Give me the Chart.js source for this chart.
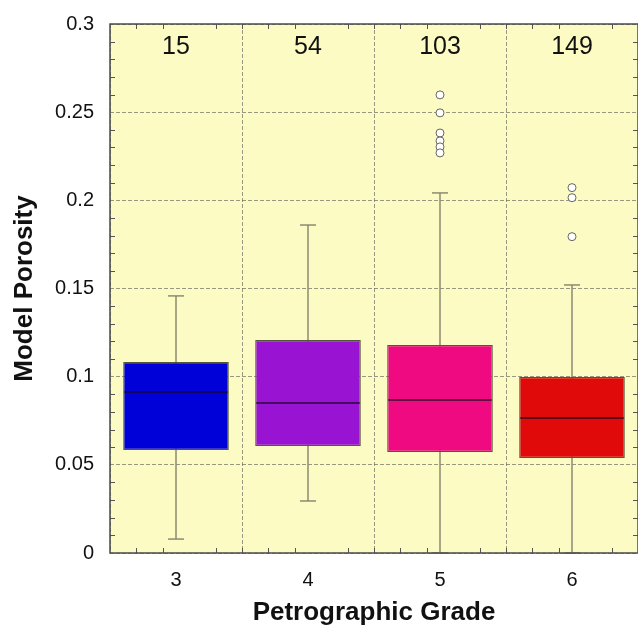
<!DOCTYPE html>
<html>
<head>
<meta charset="utf-8">
<script src="https://cdn.jsdelivr.net/npm/chart.js@4"></script>
<style>
  html, body { margin: 0; padding: 0; background: #fff; }
  #wrap { width: 638px; height: 626px; }
</style>
</head>
<body>
<div id="wrap"><canvas id="boxChart" width="638" height="626"></canvas></div>
<script>
// Petrographic grade box plot data
const grades = ['3', '4', '5', '6'];
const counts = [15, 54, 103, 149];
const q1 = [0.0584, 0.0607, 0.0573, 0.0539];
const q3 = [0.1083, 0.1208, 0.1180, 0.0998];
const medians = [0.0913, 0.0851, 0.0868, 0.0766];
const whiskerLow = [0.0079, 0.0295, 0, 0];
const whiskerHigh = [0.1458, 0.186, 0.2042, 0.152];
const outlierGrade = ['5', '5', '5', '5', '5', '5', '6', '6', '6'];
const outlierValue = [0.2598, 0.2496, 0.2382, 0.2337, 0.2303, 0.2269, 0.2072, 0.2015, 0.1794];
const yTicks = [0, 0.05, 0.1, 0.15, 0.2, 0.25, 0.3];

const boxColors = ['#0000d8', '#9814d2', '#f00a82', '#e00a0a'];
const fontFamily = '"Liberation Sans", Arial, Helvetica, sans-serif';

// draws background, whiskers, medians, frame, minor ticks and counts
const boxPlotPlugin = {
  id: 'boxPlot',
  beforeDraw(chart) {
    const { ctx, chartArea: a } = chart;
    ctx.save();
    ctx.fillStyle = '#fbfbc3';
    ctx.fillRect(a.left, a.top, a.right - a.left, a.bottom - a.top);
    ctx.restore();
  },
  beforeDatasetsDraw(chart) {
    const { ctx } = chart;
    const x = chart.scales.x, y = chart.scales.y;
    ctx.save();
    ctx.strokeStyle = '#8b8b73';
    ctx.lineWidth = 1.5;
    grades.forEach((g, i) => {
      const px = x.getPixelForValue(i);
      ctx.beginPath();
      ctx.moveTo(px, y.getPixelForValue(whiskerHigh[i]));
      ctx.lineTo(px, y.getPixelForValue(whiskerLow[i]));
      ctx.stroke();
      [whiskerHigh[i], whiskerLow[i]].forEach(v => {
        const py = y.getPixelForValue(v);
        ctx.beginPath();
        ctx.moveTo(px - 8, py);
        ctx.lineTo(px + 8, py);
        ctx.stroke();
      });
    });
    ctx.restore();
  },
  afterDatasetsDraw(chart) {
    const { ctx } = chart;
    const y = chart.scales.y;
    const meta = chart.getDatasetMeta(0);
    ctx.save();
    ctx.strokeStyle = 'rgba(20,10,30,0.85)';
    ctx.lineWidth = 1.5;
    meta.data.forEach((bar, i) => {
      const half = bar.width / 2;
      const py = y.getPixelForValue(medians[i]);
      ctx.beginPath();
      ctx.moveTo(bar.x - half + 1, py);
      ctx.lineTo(bar.x + half - 1, py);
      ctx.stroke();
    });
    ctx.restore();
  },
  afterDraw(chart) {
    const { ctx, chartArea: a } = chart;
    const x = chart.scales.x, y = chart.scales.y;
    ctx.save();
    // minor ticks
    ctx.strokeStyle = '#555';
    ctx.lineWidth = 1;
    for (let k = 1; k < 30; k++) {
      if (k % 5 === 0) continue;
      const py = Math.round(y.getPixelForValue(k / 100)) + 0.5;
      ctx.beginPath();
      ctx.moveTo(a.left, py); ctx.lineTo(a.left + 5, py);
      ctx.moveTo(a.right, py); ctx.lineTo(a.right - 5, py);
      ctx.stroke();
    }
    for (let k = 0; k < 20; k++) {
      if (k % 5 === 2) continue;
      const px = Math.round(x.getPixelForValue(-0.3 + k * 0.2)) + 0.5;
      ctx.beginPath();
      ctx.moveTo(px, a.bottom); ctx.lineTo(px, a.bottom - 5);
      ctx.moveTo(px, a.top); ctx.lineTo(px, a.top + 5);
      ctx.stroke();
    }
    // frame
    ctx.strokeStyle = '#4a4a4a';
    ctx.lineWidth = 1.5;
    ctx.strokeRect(a.left, a.top, a.right - a.left, a.bottom - a.top);
    // sample counts
    ctx.fillStyle = '#111';
    ctx.font = '25px ' + fontFamily;
    ctx.textAlign = 'center';
    ctx.textBaseline = 'middle';
    counts.forEach((n, i) => {
      ctx.fillText(String(n), x.getPixelForValue(i), a.top + 23);
    });
    ctx.restore();
  }
};

const ctx = document.getElementById('boxChart').getContext('2d');
new Chart(ctx, {
  type: 'bar',
  data: {
    labels: grades,
    datasets: [
      {
        label: 'IQR',
        data: grades.map((g, i) => [q1[i], q3[i]]),
        backgroundColor: boxColors,
        borderColor: '#55553f',
        borderWidth: 1.2,
        borderSkipped: false,
        categoryPercentage: 1,
        barPercentage: 0.8,
        order: 2
      },
      {
        type: 'line',
        label: 'Outliers',
        data: outlierGrade.map((g, i) => ({ x: g, y: outlierValue[i] })),
        showLine: false,
        pointRadius: 4,
        pointBackgroundColor: '#ffffff',
        pointBorderColor: '#666',
        pointBorderWidth: 1,
        order: 1
      }
    ]
  },
  options: {
    responsive: false,
    animation: false,
    layout: { autoPadding: false, padding: { top: 24, right: 0, left: 0, bottom: -2 } },
    plugins: {
      legend: { display: false },
      tooltip: { enabled: false }
    },
    scales: {
      x: {
        offset: true,
        grid: {
          offset: true, color: 'rgba(110,110,100,0.7)', lineWidth: 1,
          drawTicks: true, tickLength: 15, tickColor: 'rgba(0,0,0,0)'
        },
        border: { display: false, dash: [4, 2] },
        ticks: { color: '#111', padding: 0, font: { family: fontFamily, size: 20 } },
        title: {
          display: true,
          text: 'Petrographic Grade',
          color: '#111',
          padding: { top: 0, bottom: 0 },
          font: { family: fontFamily, size: 26, weight: 'bold' }
        },
        afterFit(scale) { scale.height = 75; }
      },
      y: {
        min: 0,
        max: 0.3,
        afterBuildTicks(scale) { scale.ticks = yTicks.map(v => ({ value: v })); },
        grid: {
          color: 'rgba(110,110,100,0.7)', lineWidth: 1,
          drawTicks: true, tickLength: 16, tickColor: 'rgba(0,0,0,0)'
        },
        border: { display: false, dash: [4, 2] },
        ticks: {
          color: '#111',
          padding: 0,
          font: { family: fontFamily, size: 20 },
          callback: v => String(+v.toFixed(2))
        },
        title: {
          display: true,
          text: 'Model Porosity',
          color: '#111',
          padding: { top: 9, bottom: 0 },
          font: { family: fontFamily, size: 26, weight: 'bold' }
        },
        afterFit(scale) { scale.width = 110; }
      }
    }
  },
  plugins: [boxPlotPlugin]
});
</script>
</body>
</html>
